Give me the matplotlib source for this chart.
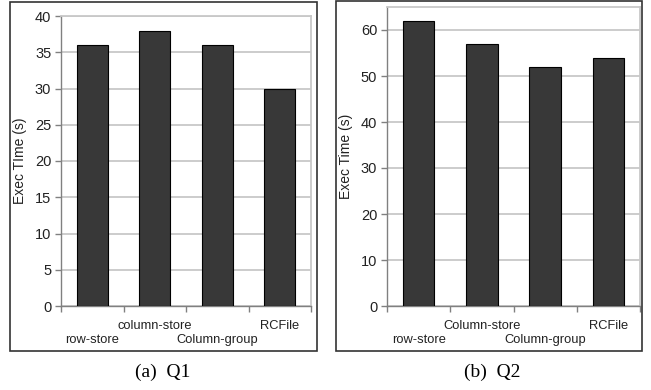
import matplotlib.pyplot as plt
from matplotlib.patches import Rectangle

# data
q1_labels = ["row-store", "column-store", "Column-group", "RCFile"]
q1_times = [36, 38, 36, 30]
q2_labels = ["row-store", "Column-store", "Column-group", "RCFile"]
q2_times = [62, 57, 52, 54]

plt.rcParams['font.family'] = ['Liberation Sans', 'DejaVu Sans']

fig = plt.figure(figsize=(6.51, 3.9), dpi=100)

grid_c = '#c8c8c8'
axis_c = '#808080'
text_c = '#222222'


def draw_panel(ax, labels, times, ymax, ystep, ylabel):
    xs = list(range(len(times)))
    ax.bar(xs, times, width=0.5, color='#383838', edgecolor='black',
           linewidth=0.8, zorder=3)
    ax.set_xlim(-0.5, len(times) - 0.5)
    ax.set_ylim(0, ymax)
    ax.set_yticks(range(0, ymax + 1, ystep))
    ax.yaxis.grid(True, color=grid_c, linewidth=1.3, zorder=0)
    ax.set_axisbelow(True)
    # major ticks on category boundaries, labels staggered on two rows
    ax.set_xticks([x - 0.5 for x in xs] + [xs[-1] + 0.5])
    ax.set_xticklabels([])
    ax.set_xticks(xs[1::2], minor=True)
    ax.set_xticklabels(labels[1::2], minor=True, fontsize=9.3, color=text_c)
    ax.tick_params(axis='x', which='minor', length=0, pad=10)
    lower = ax.secondary_xaxis('bottom')
    lower.set_xticks(xs[0::2])
    lower.set_xticklabels(labels[0::2], fontsize=9.3, color=text_c)
    lower.tick_params(length=0, pad=20)
    lower.spines['bottom'].set_visible(False)
    ax.tick_params(axis='x', which='major', length=4, color=axis_c, width=1)
    ax.tick_params(axis='y', length=4, color=axis_c, width=1, labelsize=10.5,
                   pad=3, labelcolor=text_c)
    for s in ['top', 'right']:
        ax.spines[s].set_color(grid_c)
        ax.spines[s].set_linewidth(1.3)
    for s in ['left', 'bottom']:
        ax.spines[s].set_color(axis_c)
        ax.spines[s].set_linewidth(1.0)
    ax.set_ylabel(ylabel, fontsize=10, labelpad=6, color=text_c)


ax1 = fig.add_axes([61 / 651, 1 - 306 / 390, 250 / 651, 290 / 390])
draw_panel(ax1, q1_labels, q1_times, 40, 5, "Exec TIme (s)")

ax2 = fig.add_axes([387 / 651, 1 - 306 / 390, 253 / 651, 299 / 390])
draw_panel(ax2, q2_labels, q2_times, 65, 10, "Exec Time (s)")

# panel frames
for x0, x1, y0, y1 in [(10, 317, 2, 351), (336, 642, 1, 351)]:
    fig.patches.append(Rectangle((x0 / 651, 1 - y1 / 390),
                                 (x1 - x0) / 651, (y1 - y0) / 390,
                                 transform=fig.transFigure, fill=False,
                                 edgecolor='#333333', linewidth=1.2))

fig.text(163 / 651, 1 - 372 / 390, "(a)  Q1", ha='center', va='center',
         fontsize=14, family=['Liberation Serif'])
fig.text(492 / 651, 1 - 372 / 390, "(b)  Q2", ha='center', va='center',
         fontsize=14, family=['Liberation Serif'])

fig.savefig("out.png", dpi=100)
